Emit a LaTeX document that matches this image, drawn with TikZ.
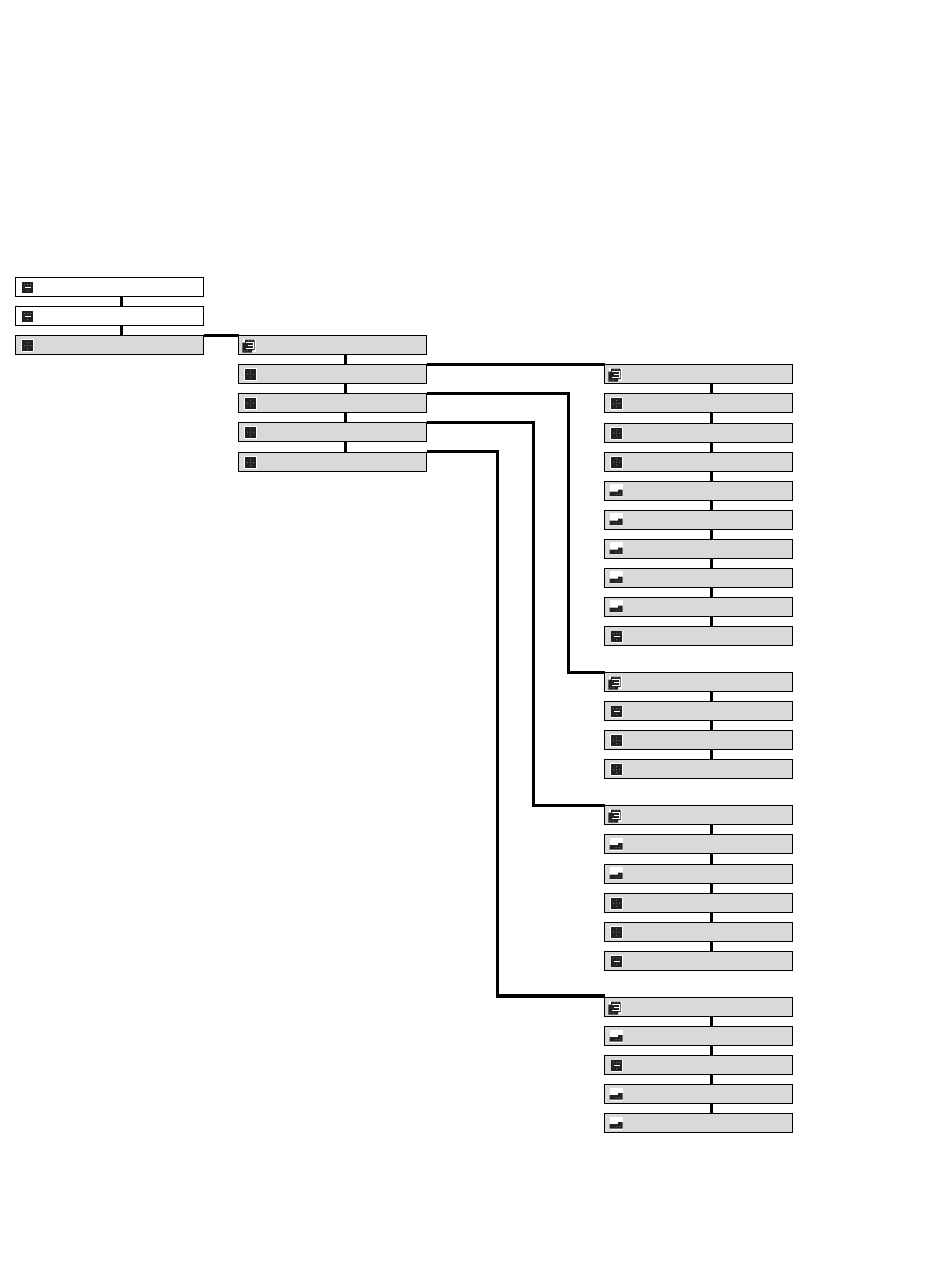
\documentclass[tikz,border=0pt]{standalone}
\usetikzlibrary{calc}
\definecolor{boxgrey}{HTML}{D9D9D9}
\definecolor{icondark}{HTML}{222222}
\definecolor{icondot}{HTML}{707070}
\tikzset{
  x=1pt,y=-1pt,
  treebox/.style={draw=black,line width=1pt,minimum width=188pt,minimum height=19pt,inner sep=0pt,outer sep=0pt,anchor=north west},
  greybox/.style={treebox,fill=boxgrey},
  whitebox/.style={treebox,fill=white},
  link/.style={draw=black,line width=3.2pt,line cap=butt,line join=miter},
  pics/iconminus/.style={code={
    \fill[white] (-0.5,-0.5) rectangle (11.5,11.5);
    \fill[icondark] (0,0) rectangle (11,11);
    \fill[white] (2.5,5) rectangle (8.5,6);
    \fill[icondot] (2,2) rectangle +(1,1) (5,2) rectangle +(1,1) (8,2) rectangle +(1,1) (5,8) rectangle +(1,1);
  }},
  pics/icondots/.style={code={
    \fill[white] (-1,-1) rectangle (11.5,12);
    \fill[icondark] (0,0) rectangle (11,11);
    \fill[icondot] (5,2) rectangle +(1,1) (2,5) rectangle +(1,1) (5,5) rectangle +(1,1) (8,5) rectangle +(1,1) (5,8) rectangle +(1,1);
  }},
  pics/iconfolder/.style={code={
    \fill[white] (-1,-1) rectangle (12,12);
    \fill[icondark] (1,0) rectangle (10.5,10.5) (-1.7,3) rectangle (8,13);
    \fill[icondot] (4,0.7) rectangle +(1,0.8) (7,0.7) rectangle +(1,0.8) (0,10.8) rectangle +(1,1) (3,10.8) rectangle +(1,1);
    \draw[white,line width=1pt] (1.7,2.6) -- (9,2.6) -- (9,8.8) -- (1.7,8.8) (3.5,5.8) -- (9,5.8);
  }},
  pics/iconbar/.style={code={
    \fill[white] (-1,-1) rectangle (12,12);
    \fill[icondark] (-1,6.5) rectangle (12,11) (7.5,4.5) rectangle (12,6.5);
    \fill[icondot] (5,8.5) rectangle +(1,1) (8.5,8.5) rectangle +(1,1);
  }},
}
% \bx{name}{x}{top}{box style}{icon}{icon x offset}{icon y offset}
\newcommand{\bx}[7]{%
  \node[#4] (#1) at (#2,#3) {};
  \pic at ($(#1.north west)+(#6,#7)$) {#5};
}
\newcommand{\vlink}[3]{\draw[link] ([xshift=#3pt]#1.south west) -- ([xshift=#3pt]#2.north west);}
\newcommand{\elbow}[3]{\draw[link] (#1.north east) -- (#1.north east -| #3) -- (#2.north west -| #3) -- (#2.north west);}
\begin{document}
\begin{tikzpicture}
\useasboundingbox (0,0) rectangle (950,1288);
\fill[white] (0,0) rectangle (950,1288);
\coordinate (bendb) at (568.5,0);
\coordinate (bendc) at (533.5,0);
\coordinate (bendd) at (497.5,0);
% left column
\bx{la}{15.5}{277.5}{whitebox}{iconminus}{6.5}{4.5}
\bx{lb}{15.5}{306.5}{whitebox}{iconminus}{6.5}{4.5}
\bx{lc}{15.5}{335.5}{greybox}{icondots}{6.5}{4.5}
% middle column
\bx{ma}{238.5}{335.5}{greybox}{iconfolder}{5.5}{4}
\bx{mb}{238.5}{364.5}{greybox}{icondots}{6.5}{4}
\bx{mc}{238.5}{393.5}{greybox}{icondots}{6.5}{4}
\bx{md}{238.5}{422.5}{greybox}{icondots}{6.5}{4}
\bx{me}{238.5}{452}{greybox}{icondots}{6.5}{5}
% right column, group a
\bx{ra}{604.5}{364.5}{greybox}{iconfolder}{5.5}{4}
\bx{rb}{604.5}{393.5}{greybox}{icondots}{6.5}{4.5}
\bx{rc}{604.5}{423}{greybox}{icondots}{6.5}{4.5}
\bx{rd}{604.5}{452}{greybox}{icondots}{6.5}{4.5}
\bx{re}{604.5}{481}{greybox}{iconbar}{6}{4}
\bx{rf}{604.5}{510}{greybox}{iconbar}{6}{4}
\bx{rg}{604.5}{539}{greybox}{iconbar}{6}{4}
\bx{rh}{604.5}{568}{greybox}{iconbar}{6}{4}
\bx{ri}{604.5}{597}{greybox}{iconbar}{6}{4}
\bx{rj}{604.5}{626.5}{greybox}{iconminus}{6.5}{4.5}
% group b
\bx{sa}{604.5}{672.5}{greybox}{iconfolder}{5.5}{4}
\bx{sb}{604.5}{701.5}{greybox}{iconminus}{6.5}{4.5}
\bx{sc}{604.5}{730.5}{greybox}{icondots}{6.5}{4.5}
\bx{sd}{604.5}{759.5}{greybox}{icondots}{6.5}{4.5}
% group c
\bx{ta}{604.5}{805.5}{greybox}{iconfolder}{5.5}{4}
\bx{tb}{604.5}{834.5}{greybox}{iconbar}{6}{4}
\bx{tc}{604.5}{864}{greybox}{iconbar}{6}{4}
\bx{td}{604.5}{893}{greybox}{icondots}{6.5}{4.5}
\bx{te}{604.5}{922}{greybox}{icondots}{6.5}{4.5}
\bx{tf}{604.5}{951}{greybox}{iconminus}{6.5}{4.5}
% group d
\bx{ua}{604.5}{997.5}{greybox}{iconfolder}{5.5}{4}
\bx{ub}{604.5}{1026.5}{greybox}{iconbar}{6}{4}
\bx{uc}{604.5}{1055.5}{greybox}{iconminus}{6.5}{4.5}
\bx{ud}{604.5}{1084.5}{greybox}{iconbar}{6}{4}
\bx{ue}{604.5}{1113.5}{greybox}{iconbar}{6}{4}
% vertical connectors
\vlink{la}{lb}{106}
\vlink{lb}{lc}{106}
\vlink{ma}{mb}{107}
\vlink{mb}{mc}{107}
\vlink{mc}{md}{107}
\vlink{md}{me}{107}
\vlink{ra}{rb}{107}
\vlink{rb}{rc}{107}
\vlink{rc}{rd}{107}
\vlink{rd}{re}{107}
\vlink{re}{rf}{107}
\vlink{rf}{rg}{107}
\vlink{rg}{rh}{107}
\vlink{rh}{ri}{107}
\vlink{ri}{rj}{107}
\vlink{sa}{sb}{107}
\vlink{sb}{sc}{107}
\vlink{sc}{sd}{107}
\vlink{ta}{tb}{107}
\vlink{tb}{tc}{107}
\vlink{tc}{td}{107}
\vlink{td}{te}{107}
\vlink{te}{tf}{107}
\vlink{ua}{ub}{107}
\vlink{ub}{uc}{107}
\vlink{uc}{ud}{107}
\vlink{ud}{ue}{107}
% horizontal and elbow connectors
\draw[link] (lc.north east) -- (ma.north west);
\draw[link] (mb.north east) -- (ra.north west);
\elbow{mc}{sa}{bendb}
\elbow{md}{ta}{bendc}
\coordinate (meexit) at ([yshift=0.5pt]me.north east);
\coordinate (uaentry) at ([yshift=1.5pt]ua.north west);
\draw[link] (meexit) -- (meexit -| bendd) -- (uaentry -| bendd) -- (uaentry);
\end{tikzpicture}
\end{document}
